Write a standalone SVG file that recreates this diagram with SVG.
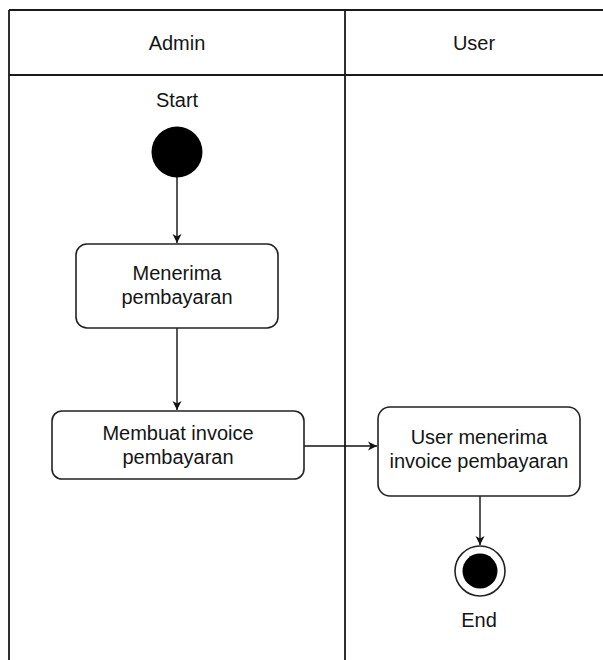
<svg xmlns="http://www.w3.org/2000/svg" width="603" height="660" viewBox="0 0 603 660">
  <defs>
    <marker id="arrow" markerWidth="12" markerHeight="12" refX="10" refY="6" orient="auto" markerUnits="userSpaceOnUse">
      <path d="M1,1.5 L10,6 L1,10.5 L3.5,6 Z" fill="#111"/>
    </marker>
    <style>
      .lane { stroke: #1a1a1a; stroke-width: 1.8; fill: none; }
      .box { fill: #fff; stroke: #222; stroke-width: 1.6; }
      .edge { stroke: #111; stroke-width: 1.4; fill: none; }
      text { font-family: "Liberation Sans", Arial, sans-serif; font-size: 20px; fill: #151515; text-anchor: middle; }
    </style>
  </defs>
  <rect width="603" height="660" fill="#fff"/>

  <!-- swimlane frame -->
  <g id="lanes">
    <path class="lane" d="M9,10 H603 M9,75 H603 M9,10 V660 M345,10 V660"/>
    <text x="177" y="50">Admin</text>
    <text x="474" y="50">User</text>
  </g>

  <!-- connectors -->
  <g id="connectors">
    <path class="edge" d="M177,177 V243" marker-end="url(#arrow)"/>
    <path class="edge" d="M177,328 V410" marker-end="url(#arrow)"/>
    <path class="edge" d="M304,446 H377" marker-end="url(#arrow)"/>
    <path class="edge" d="M480,496 V545" marker-end="url(#arrow)"/>
  </g>

  <g id="start">
    <text x="177" y="107">Start</text>
    <circle cx="177" cy="152" r="25.5" fill="#000"/>
  </g>

  <g id="terima-bayar">
    <rect class="box" x="76" y="244" width="202" height="84" rx="11"/>
    <text x="177" y="280">Menerima</text>
    <text x="177" y="304">pembayaran</text>
  </g>

  <g id="buat-invoice">
    <rect class="box" x="52" y="411" width="252" height="68" rx="10"/>
    <text x="178" y="440">Membuat invoice</text>
    <text x="178" y="464">pembayaran</text>
  </g>

  <g id="user-terima">
    <rect class="box" x="378" y="407" width="202" height="89" rx="12"/>
    <text x="479" y="444">User menerima</text>
    <text x="479" y="468">invoice pembayaran</text>
  </g>

  <g id="end">
    <circle cx="480" cy="571" r="25" fill="#fff" stroke="#222" stroke-width="1.6"/>
    <circle cx="480" cy="571" r="17.5" fill="#000"/>
    <text x="479" y="627">End</text>
  </g>
</svg>
